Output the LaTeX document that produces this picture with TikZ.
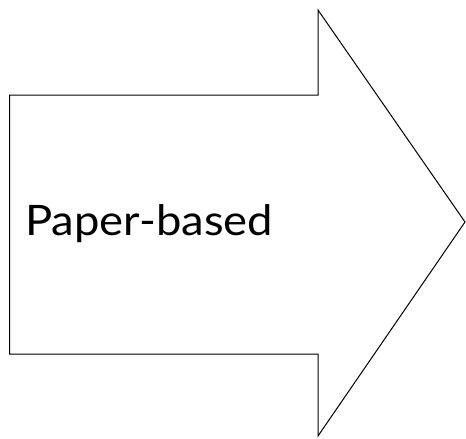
\documentclass[tikz,border=0pt]{standalone}
\usepackage{fontspec}
\setmainfont{Lato}
\begin{document}
\begin{tikzpicture}[x=1pt,y=-1pt,
  arrowshape/.style={draw=black,line width=1pt,fill=white,line join=miter},
  lbl/.style={font=\fontsize{42}{50}\selectfont,anchor=base west,inner sep=0pt,xscale=1.08}]
\useasboundingbox (0,0) rectangle (466,439);
\draw[arrowshape] (9.5,95) -- (318,95) -- (318,10) -- (465,222) -- (318,436) -- (318,354) -- (9.5,354) -- cycle;
\node[lbl] (t) at (25,235) {Paper-based};
\end{tikzpicture}
\end{document}
